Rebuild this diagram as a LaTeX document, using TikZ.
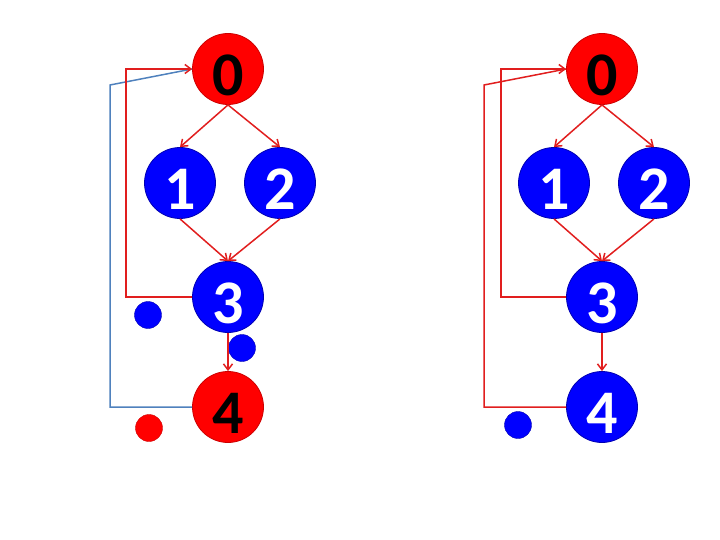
\documentclass[tikz,border=0pt]{standalone}
\usepackage{fontspec}
\setsansfont{Carlito}
\usepackage{xcolor}
\usepackage{tikz}
\usetikzlibrary{arrows.meta}

\definecolor{nodered}{RGB}{255,0,0}
\definecolor{nodeblue}{RGB}{0,0,255}
\definecolor{linered}{RGB}{225,30,30}
\definecolor{lineblue}{RGB}{79,129,189}

\newcommand{\vlabel}[1]{\raisebox{-6pt}[\height][\depth]{#1}}

\tikzset{
	vertex/.style={circle, inner sep=0pt, minimum size=71pt, line width=0.8pt,
		font=\sffamily\bfseries\fontsize{62}{62}\selectfont},
	hotvertex/.style={vertex, fill=nodered, draw=nodered!80!black, text=black},
	coolvertex/.style={vertex, fill=nodeblue, draw=nodeblue!70!black, text=white},
	reddot/.style={circle, inner sep=0pt, minimum size=27pt, fill=nodered, draw=nodered!80!black},
	bluedot/.style={circle, inner sep=0pt, minimum size=27pt, fill=nodeblue, draw=nodeblue!70!black},
	flow/.style={draw=linered, line width=1.5pt, -{Straight Barb[length=6pt,width=9pt]}},
	back/.style={draw=linered, line width=1.5pt},
	backblue/.style={draw=lineblue, line width=1.5pt}
}

\begin{document}
\begin{tikzpicture}[x=1pt, y=-1pt]
				\useasboundingbox (0, 0) rectangle (720, 540);
				
				%Left graph
				\node[bluedot] (la) at (148, 315) {};
				\node[bluedot] (lb) at (242, 348) {};
				\node[reddot] (lc) at (149, 428) {};
				
				\node[hotvertex] (l0) at (228, 69) {\vlabel{0}};
				\node[coolvertex] (l1) at (180, 183) {\vlabel{1}};
				\node[coolvertex] (l2) at (280, 183) {\vlabel{2}};
				\node[coolvertex] (l3) at (228, 297) {\vlabel{3}};
				\node[hotvertex] (l4) at (228, 407) {\vlabel{4}};
				
				\coordinate (lk3) at (126, 297);
				\coordinate (lk4) at (110, 85);
				
				%Lines
				\draw[flow] (l0.south) -- (l1.north);
				\draw[flow] (l0.south) -- (l2.north);
				\draw[flow] (l1.south) -- (l3.north);
				\draw[flow] (l2.south) -- (l3.north);
				\draw[flow] (l3.south) -- (l4.north);
				\draw[backblue] (l4.west) -| (lk4) -- (l0.west);
				\draw[flow] (l3.west) -- (lk3) |- (l0.west);
				
				%Right graph
				\node[bluedot] (ra) at (518, 425) {};
				
				\node[hotvertex] (r0) at (602, 69) {\vlabel{0}};
				\node[coolvertex] (r1) at (554, 183) {\vlabel{1}};
				\node[coolvertex] (r2) at (654, 183) {\vlabel{2}};
				\node[coolvertex] (r3) at (602, 297) {\vlabel{3}};
				\node[coolvertex] (r4) at (602, 407) {\vlabel{4}};
				
				\coordinate (rk3) at (501, 297);
				\coordinate (rk4) at (484, 85);
				
				%Lines
				\draw[flow] (r0.south) -- (r1.north);
				\draw[flow] (r0.south) -- (r2.north);
				\draw[flow] (r1.south) -- (r3.north);
				\draw[flow] (r2.south) -- (r3.north);
				\draw[flow] (r3.south) -- (r4.north);
				\draw[back] (r4.west) -| (rk4) -- (r0.west);
				\draw[flow] (r3.west) -- (rk3) |- (r0.west);
			\end{tikzpicture}
\end{document}
